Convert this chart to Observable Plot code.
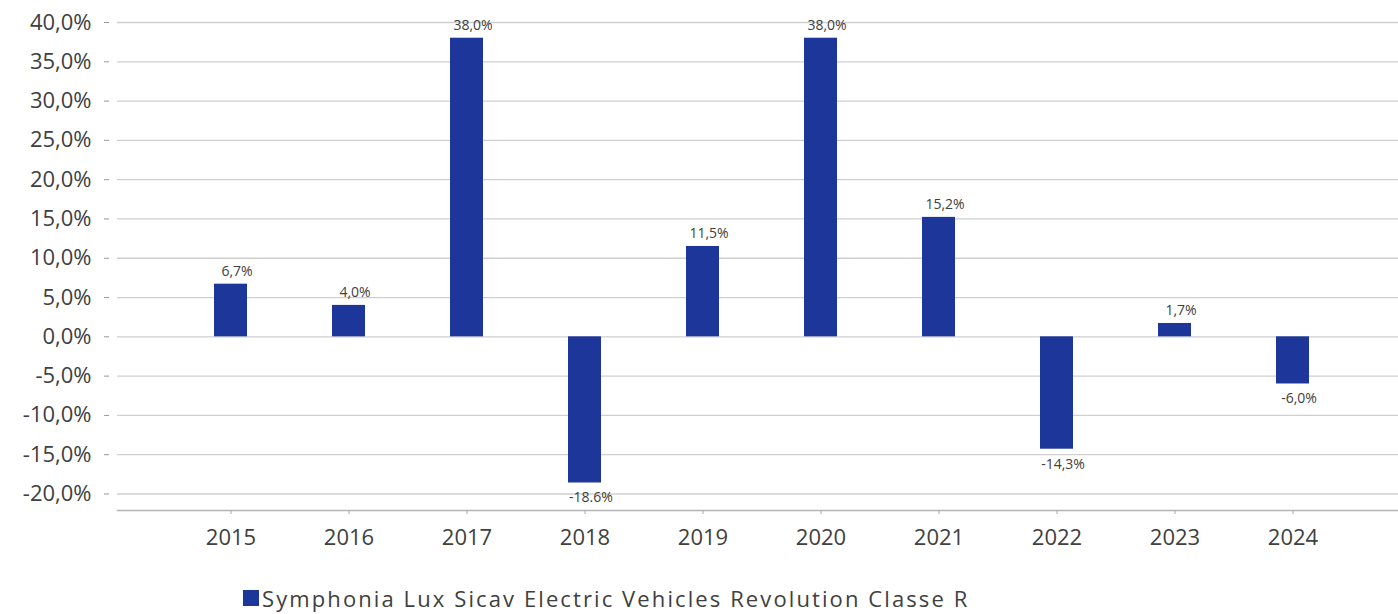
<!DOCTYPE html>
<html>
<head>
<meta charset="utf-8">
<script src="https://cdn.jsdelivr.net/npm/d3@7"></script>
<script src="https://cdn.jsdelivr.net/npm/@observablehq/plot@0.6"></script>
<style>
  body { margin: 0; background: #fff; font-family: "Open Sans", sans-serif; }
  #wrap { position: relative; width: 1398px; height: 614px; overflow: hidden; }
  #legend { position: absolute; left: 243px; top: 585px; display: flex; align-items: center;
            font-size: 22px; line-height: 26px; color: #404040; white-space: nowrap; letter-spacing: 2.1px; }
  #legend .sw { width: 16px; height: 16px; background: #1d3699; margin-right: 3px; }
</style>
</head>
<body>
<div id="wrap">
  <div id="chart"></div>
  <div id="legend"><span class="sw"></span><span>Symphonia Lux Sicav Electric Vehicles Revolution Classe R</span></div>
</div>
<script>
const years = ["2015","2016","2017","2018","2019","2020","2021","2022","2023","2024"];
const values = [6.7, 4.0, 38.0, -18.6, 11.5, 38.0, 15.2, -14.3, 1.7, -6.0];
const valueLabels = ["6,7%","4,0%","38,0%","-18.6%","11,5%","38,0%","15,2%","-14,3%","1,7%","-6,0%"];
const yTicks = [-20,-15,-10,-5,0,5,10,15,20,25,30,35,40];
const yDomain = [-22.1, 40];
const barColor = "#1d3699";

const data = years.map((y, i) => ({year: y, value: values[i], label: valueLabels[i]}));
const fmt = d => d.toFixed(1).replace(".", ",") + "%";

const chart = Plot.plot({
  width: 1398,
  height: 570,
  marginLeft: 117,
  marginRight: 0,
  marginTop: 22,
  marginBottom: 60,
  style: {fontFamily: "Open Sans, sans-serif", color: "#404040", background: "#fff"},
  x: {type: "band", domain: years, range: [171, 1353], paddingInner: 0.72, paddingOuter: 0.36, label: null},
  y: {domain: yDomain, label: null},
  marks: [
    Plot.gridY(yTicks, {stroke: "#cfcfcf", strokeOpacity: 1, strokeWidth: 1.3}),
    Plot.frame({anchor: "bottom", stroke: "#b5b5b5", strokeWidth: 1.5}),
    Plot.axisY(yTicks, {tickFormat: fmt, tickSize: 5, dx: -8, tickPadding: 13, fontSize: 22, fill: "#404040", stroke: "#999", label: null}),
    Plot.axisX({tickSize: 4, tickPadding: 15, fontSize: 22, fill: "#404040", stroke: "#aaa", label: null}),
    Plot.barY(data, {x: "year", y: "value", fill: barColor}),
    Plot.text(data.filter(d => d.value >= 0), {x: "year", y: "value", text: "label", dy: -13, dx: 6, fontSize: 14, fill: "#404040"}),
    Plot.text(data.filter(d => d.value < 0), {x: "year", y: "value", text: "label", dy: 15, dx: 6, fontSize: 14, fill: "#404040"})
  ]
});
document.getElementById("chart").appendChild(chart);
</script>
</body>
</html>
